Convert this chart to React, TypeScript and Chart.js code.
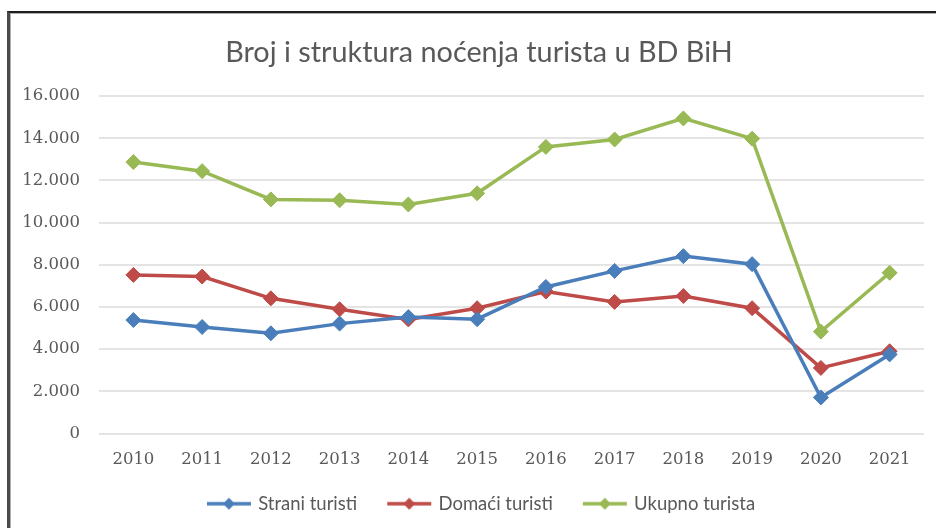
import React, { useEffect, useRef } from "react";
import { Chart, registerables } from "chart.js";

Chart.register(...registerables);

const years = ["2010", "2011", "2012", "2013", "2014", "2015", "2016", "2017", "2018", "2019", "2020", "2021"];
const straniTuristi = [5380, 5050, 4750, 5210, 5520, 5420, 6950, 7710, 8410, 8030, 1710, 3750];
const domaciTuristi = [7520, 7440, 6410, 5890, 5410, 5940, 6730, 6240, 6520, 5940, 3110, 3900];
const ukupnoTurista = [12870, 12440, 11100, 11060, 10860, 11390, 13590, 13940, 14940, 13980, 4830, 7620];
const seriesNames = ["Strani turisti", "Domaći turisti", "Ukupno turista"];
const seriesColors = ["#4A7EBB", "#BE4B48", "#98B954"];
const titleText = "Broj i struktura noćenja turista u BD BiH";
const yMin = 0;
const yMax = 16000;
const yStep = 2000;

const GRAY = "#595959";

function formatThousands(v: number): string {
  const s = Math.round(v).toString();
  return s.replace(/\B(?=(\d{3})+(?!\d))/g, ".");
}

function legendIcon(color: string): HTMLCanvasElement {
  const c = document.createElement("canvas");
  c.width = 48;
  c.height = 16;
  const ctx = c.getContext("2d")!;
  ctx.strokeStyle = color;
  ctx.fillStyle = color;
  ctx.lineWidth = 3.5;
  ctx.beginPath();
  ctx.moveTo(2, 8);
  ctx.lineTo(46, 8);
  ctx.stroke();
  ctx.beginPath();
  ctx.moveTo(24 - 6, 8);
  ctx.lineTo(24, 2);
  ctx.lineTo(24 + 6, 8);
  ctx.lineTo(24, 14);
  ctx.closePath();
  ctx.fill();
  return c;
}

const layoutShift = {
  id: "layoutShift",
  afterLayout(chart: any) {
    const l = chart.legend;
    if (l) {
      l.left += 20;
      l.right += 20;
      l.top -= 5;
      l.bottom -= 5;
    }
    const t = chart.titleBlock;
    if (t) {
      t.left += 17;
      t.right += 17;
    }
  },
};

export default function App() {
  const ref = useRef<HTMLCanvasElement>(null);

  useEffect(() => {
    if (!ref.current) return;
    const values = [straniTuristi, domaciTuristi, ukupnoTurista];
    const icons = seriesColors.map((c) => legendIcon(c));
    const chart = new Chart(ref.current, {
      type: "line",
      data: {
        labels: years,
        datasets: values.map((d, i) => ({
          label: seriesNames[i],
          data: d,
          borderColor: seriesColors[i],
          backgroundColor: seriesColors[i],
          borderWidth: 3.5,
          pointStyle: "rectRot",
          pointRadius: 7.5,
          pointBorderWidth: 1,
          pointBackgroundColor: seriesColors[i],
          pointBorderColor: seriesColors[i],
          tension: 0,
          fill: false,
        })),
      },
      plugins: [layoutShift],
      options: {
        animation: false,
        responsive: false,
        maintainAspectRatio: false,
        layout: { padding: { left: 0, right: 12, top: 0, bottom: 0 } },
        plugins: {
          title: {
            display: true,
            text: titleText,
            color: GRAY,
            font: { family: "Lato", size: 28.8, weight: "normal" },
            padding: { top: 35, bottom: 26.5 },
          },
          legend: {
            position: "bottom",
            labels: {
              usePointStyle: true,
              pointStyleWidth: 40,
              padding: 32,
              color: GRAY,
              font: { family: "Lato", size: 18.5 },
              generateLabels: (chart: any) =>
                chart.data.datasets.map((ds: any, i: number) => ({
                  text: ds.label,
                  fillStyle: seriesColors[i],
                  strokeStyle: seriesColors[i],
                  lineWidth: 0,
                  pointStyle: icons[i],
                  datasetIndex: i,
                  hidden: false,
                  fontColor: GRAY,
                })),
            },
          },
          tooltip: { enabled: false },
        },
        scales: {
          x: {
            offset: true,
            grid: { display: false },
            border: { display: false },
            ticks: {
              color: GRAY,
              padding: 8,
              font: { family: "DejaVu Serif", size: 16.5 },
            },
            afterFit: (scale: any) => {
              scale.height = 34;
            },
          },
          y: {
            min: yMin,
            max: yMax,
            grid: { color: "#e4e4e4", lineWidth: 2, drawTicks: false },
            border: { display: false },
            ticks: {
              stepSize: yStep,
              color: GRAY,
              padding: 19,
              font: { family: "DejaVu Serif", size: 16.5 },
              callback: (v: any) => formatThousands(Number(v)),
            },
            afterFit: (scale: any) => {
              scale.width = 99;
            },
          },
        },
      },
    } as any);
    return () => chart.destroy();
  }, []);

  return (
    <div style={{ position: "fixed", left: 0, top: 0, width: 936, height: 528, background: "#ffffff", overflow: "hidden" }}>
      <div
        style={{
          position: "absolute",
          left: 7,
          top: 11,
          width: 960,
          height: 560,
          borderTop: "2px solid #1e1e1e",
          borderLeft: "3px solid #4a4a4a",
          boxShadow: "inset 1px 1px 0 #b0b0b0",
        }}
      />
      <canvas ref={ref} width={936} height={528} style={{ position: "absolute", left: 0, top: 0, width: 936, height: 528 }} />
    </div>
  );
}
